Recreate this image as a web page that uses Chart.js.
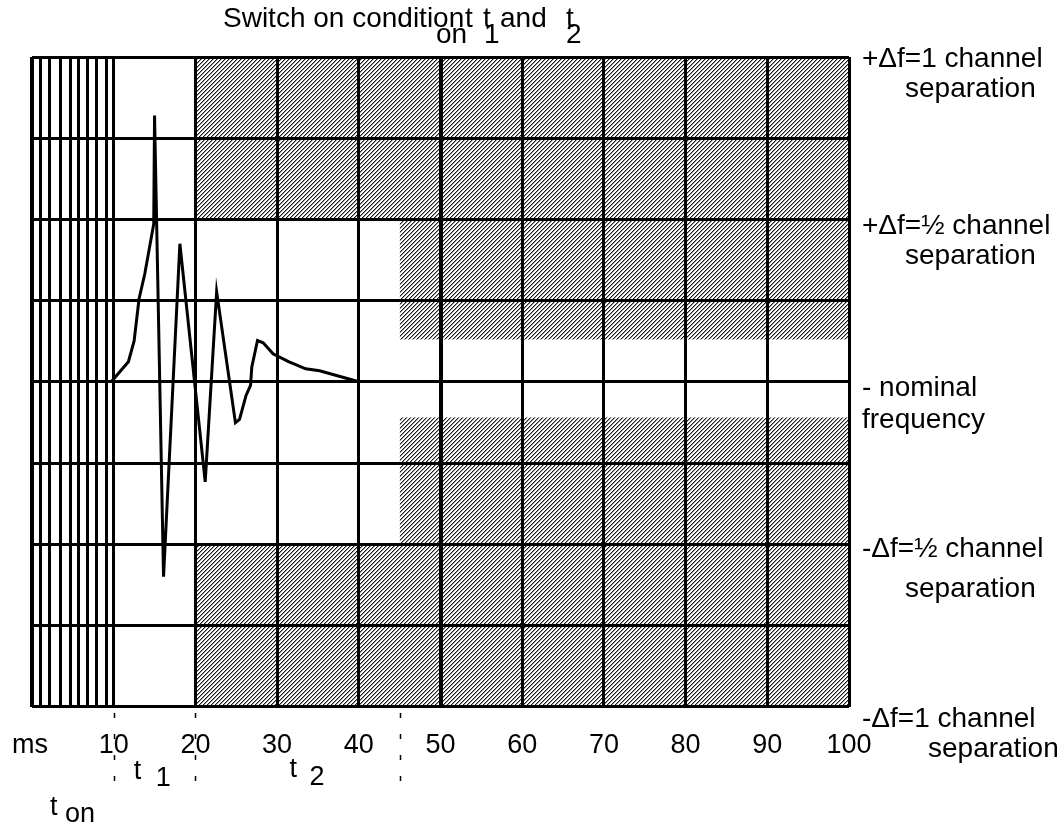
<!DOCTYPE html>
<html>
<head>
<meta charset="utf-8">
<script src="https://cdn.jsdelivr.net/npm/chart.js@4.4.1/dist/chart.umd.min.js"></script>
<style>
  body { margin: 0; background: #fff; }
</style>
</head>
<body>
<canvas id="chart" width="1061" height="825"></canvas>
<script>
let xTicks = [0, 1, 2.1, 3.5, 4.7, 5.7, 6.75, 7.95, 9.15, 10, 20, 30, 40, 50, 60, 70, 80, 90, 100];
let xLabels = ["", "", "", "", "", "", "", "", "", "10", "20", "30", "40", "50", "60", "70", "80", "90", "100"];
let xUnit = "ms";
let yTicks = [-1, -0.75, -0.5, -0.25, 0, 0.25, 0.5, 0.75, 1];

// frequency deviation after switch on
let responseX = [9.7, 10.2, 11.8, 12.5, 13.1, 13.8, 14.9, 15.0, 16.1, 18.1, 21.2, 22.6, 24.9, 25.4, 26.2, 26.75, 26.9, 27.6, 28.3, 29.5, 31.4, 33.5, 35.2, 40];
let responseY = [0, 0.015, 0.062, 0.126, 0.255, 0.332, 0.486, 0.82, -0.6, 0.425, -0.308, 0.277, -0.126, -0.116, -0.042, -0.011, 0.045, 0.127, 0.12, 0.086, 0.062, 0.04, 0.034, 0];

// hatched (forbidden) zones
let zoneFrom = [20, 45, 45, 20];
let zoneTo = [100, 100, 100, 100];
let zoneLow = [0.5, 0.13, -0.5, -1];
let zoneHigh = [1, 0.5, -0.11, -0.5];

let sideValues = [1, 0.5, 0, -0.5, -1];
let sideLines = [
    ["+\u0394f=1 channel", "separation"],
    ["+\u0394f=\u00bd channel", "separation"],
    ["- nominal", "frequency"],
    ["-\u0394f=\u00bd channel", "separation"],
    ["-\u0394f=1 channel", "separation"]
];
let markValues = [10, 20, 45];

const font = '"Liberation Sans", Arial, sans-serif';

function hatch() {
    let c = document.createElement("canvas");
    c.width = 4;
    c.height = 4;
    let g = c.getContext("2d");
    g.fillStyle = "#fff";
    g.fillRect(0, 0, 4, 4);
    for (let i = 0; i < 4; i++) {
        g.fillStyle = "#1a1a1a";
        g.fillRect(i, 3 - i, 1, 1);
        g.fillStyle = "#9a9a9a";
        g.fillRect(i, (4 - i) % 4, 1, 1);
    }
    return g.createPattern(c, "repeat");
}
let pattern = hatch();

let datasets = zoneFrom.map((f, i) => ({
    data: [{x: f, y: zoneHigh[i]}, {x: zoneTo[i], y: zoneHigh[i]}],
    fill: {value: zoneLow[i]},
    backgroundColor: pattern,
    borderColor: "rgba(0,0,0,0)",
    borderWidth: 0,
    pointRadius: 0
}));
datasets.push({
    data: responseX.map((x, i) => ({x: x, y: responseY[i]})),
    borderColor: "#000",
    borderWidth: 3,
    pointRadius: 0,
    fill: false,
    tension: 0
});

// side texts: [first line dy, second line dy, second line x]
const sideLayout = [[10, 40, 905], [15, 45, 905], [14, 46, 862], [13, 53, 905], [20, 50, 928]];

const notes = {
    id: "notes",
    afterDraw(chart) {
        const {ctx, scales: {x, y}} = chart;
        ctx.save();
        ctx.fillStyle = "#000";
        ctx.textBaseline = "alphabetic";
        ctx.textAlign = "left";
        ctx.font = "28px " + font;

        // title with subscripts
        ctx.fillText("Switch on condition", 223, 27);
        ctx.fillText("t", 465, 27);
        ctx.fillText("t", 483, 27);
        ctx.fillText("and", 500, 27);
        ctx.fillText("t", 566, 27);
        ctx.fillText("on", 436, 43);
        ctx.fillText("1", 484, 43);
        ctx.fillText("2", 566, 43);

        // right side labels
        sideValues.forEach((v, i) => {
            const py = y.getPixelForValue(v);
            const l = sideLayout[i];
            ctx.fillText(sideLines[i][0], 862, py + l[0]);
            ctx.fillText(sideLines[i][1], l[2], py + l[1]);
        });

        // unit at the axis origin
        ctx.font = "27px " + font;
        ctx.textAlign = "center";
        ctx.textBaseline = "middle";
        ctx.fillText(xUnit, x.getPixelForValue(0) - 2, x.top + 39);

        // interval names under the axis
        ctx.textAlign = "left";
        ctx.textBaseline = "alphabetic";
        const p10 = x.getPixelForValue(10);
        const p20 = x.getPixelForValue(20);
        const p45 = x.getPixelForValue(45);
        ctx.fillText("t", p10 + 20, 779);
        ctx.fillText("1", p10 + 42, 786);
        ctx.fillText("t", (p20 + p45) / 2 - 8, 777);
        ctx.fillText("2", (p20 + p45) / 2 + 12, 785);
        ctx.fillText("t", 50, 815);
        ctx.fillText("on", 65, 822);

        // dashed markers
        ctx.strokeStyle = "#000";
        ctx.lineWidth = 1.5;
        ctx.setLineDash([5, 16]);
        markValues.forEach(v => {
            const px = Math.round(x.getPixelForValue(v)) + 0.5;
            ctx.beginPath();
            ctx.moveTo(px, 713);
            ctx.lineTo(px, 785);
            ctx.stroke();
        });
        ctx.restore();
    }
};

new Chart("chart", {
    type: "line",
    data: {datasets: datasets},
    options: {
        responsive: false,
        animation: false,
        layout: {padding: {left: 32, right: 212, top: 57, bottom: 40}},
        plugins: {legend: {display: false}, tooltip: {enabled: false}},
        scales: {
            x: {
                type: "linear",
                min: 0,
                max: 100,
                afterBuildTicks: s => { s.ticks = xTicks.map(v => ({value: v})); },
                ticks: {
                    autoSkip: false,
                    maxRotation: 0,
                    color: "#000",
                    padding: 23,
                    font: {family: font, size: 27},
                    callback: (v, i) => xLabels[i]
                },
                grid: {
                    z: 1,
                    color: "#000",
                    drawTicks: false,
                    lineWidth: c => {
                        const v = c.tick ? c.tick.value : 0;
                        if (v === 0 || v === 50) return 4;
                        return 3;
                    }
                },
                border: {display: false}
            },
            y: {
                min: -1,
                max: 1,
                afterBuildTicks: s => { s.ticks = yTicks.map(v => ({value: v})); },
                ticks: {display: false},
                grid: {z: 1, color: "#000", lineWidth: 3, drawTicks: false},
                border: {display: false}
            }
        }
    },
    plugins: [notes]
});
</script>
</body>
</html>
